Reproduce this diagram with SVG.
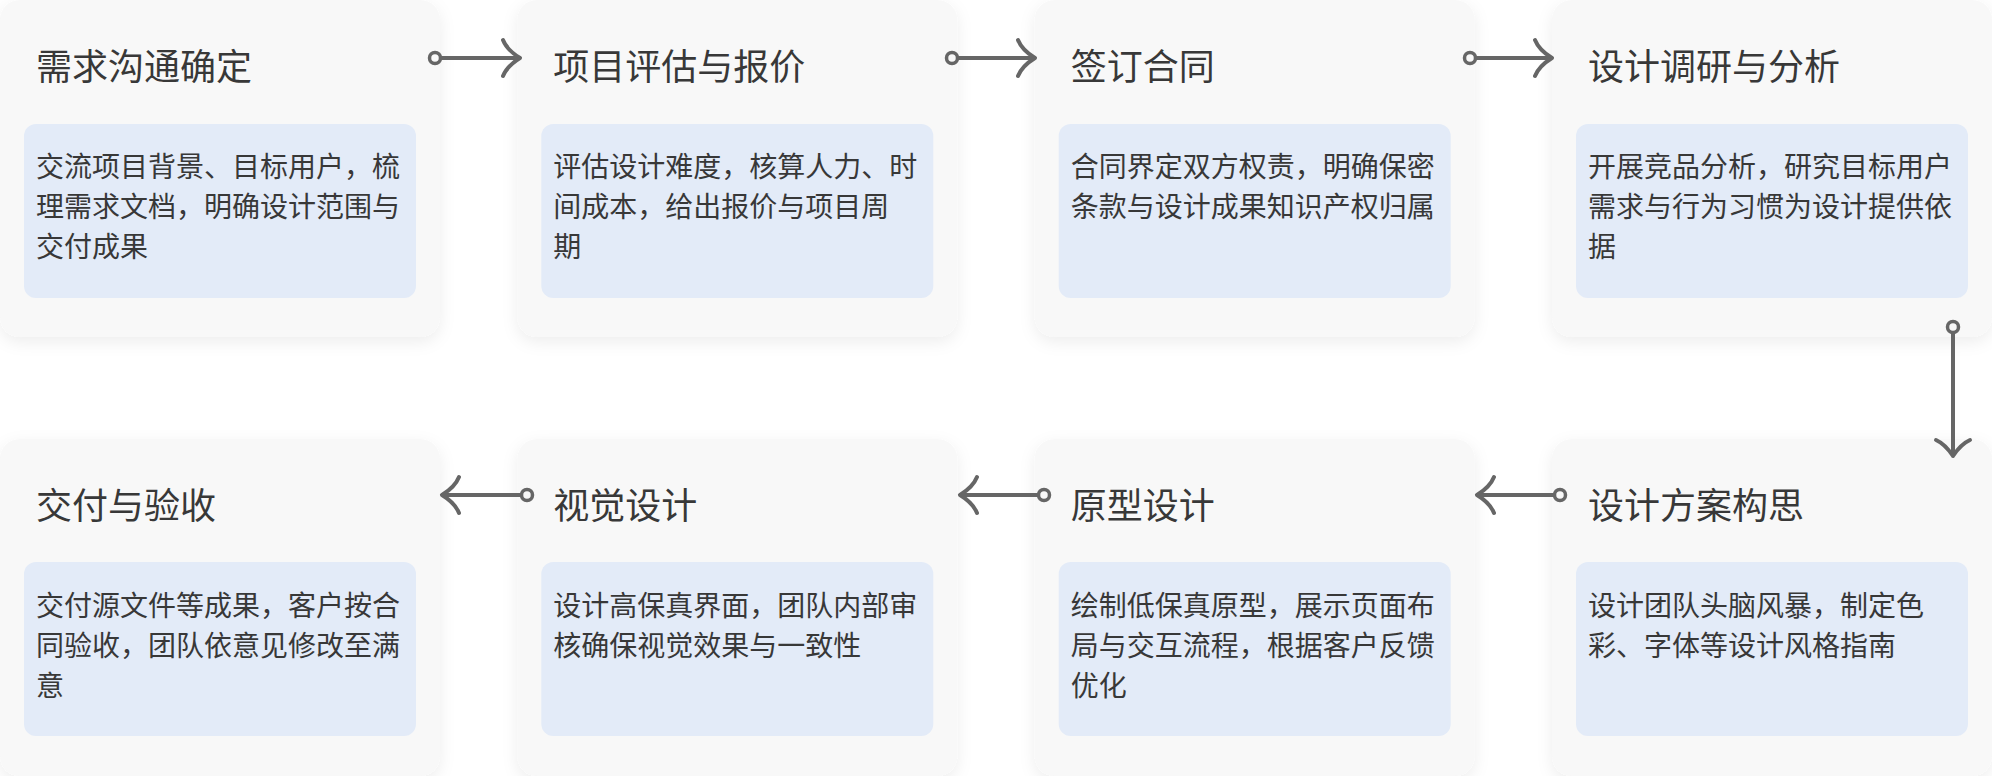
<svg xmlns="http://www.w3.org/2000/svg" width="1992" height="776" viewBox="0 0 1992 776">
<defs>
<filter id="sh" x="-10%" y="-10%" width="120%" height="125%">
<feDropShadow dx="0" dy="5" stdDeviation="8" flood-color="#000" flood-opacity="0.07"/>
</filter>
<style>
.card{fill:#f8f8f8;filter:url(#sh)}
.inner{fill:#e3ebf8}
.title{font-family:"Noto Sans CJK SC","Noto Sans",sans-serif;font-size:36px;fill:#383838}
.body{font-family:"Noto Sans CJK SC","Noto Sans",sans-serif;font-size:28px;fill:#383838}
.ln{fill:none;stroke:#666;stroke-width:4;stroke-linecap:round;stroke-linejoin:round}
.dot{fill:#f8f8f8;stroke:#666;stroke-width:3.5}
</style>
</defs>
<rect width="1992" height="776" fill="#fff"/>

<g id="n1">
<rect class="card" x="0" y="0" width="440" height="337" rx="20"/>
<rect class="inner" x="24" y="124" width="392" height="174" rx="12"/>
<text class="title" x="36" y="80">需求沟通确定</text>
<text class="body" x="36" y="177">交流项目背景、目标用户，梳<tspan x="36" dy="40">理需求文档，明确设计范围与</tspan><tspan x="36" dy="40">交付成果</tspan></text>
</g>
<g id="n2">
<rect class="card" x="517.3" y="0" width="440" height="337" rx="20"/>
<rect class="inner" x="541.3" y="124" width="392" height="174" rx="12"/>
<text class="title" x="553.3" y="80">项目评估与报价</text>
<text class="body" x="553.3" y="177">评估设计难度，核算人力、时<tspan x="553.3" dy="40">间成本，给出报价与项目周</tspan><tspan x="553.3" dy="40">期</tspan></text>
</g>
<g id="n3">
<rect class="card" x="1034.7" y="0" width="440" height="337" rx="20"/>
<rect class="inner" x="1058.7" y="124" width="392" height="174" rx="12"/>
<text class="title" x="1070.7" y="80">签订合同</text>
<text class="body" x="1070.7" y="177">合同界定双方权责，明确保密<tspan x="1070.7" dy="40">条款与设计成果知识产权归属</tspan></text>
</g>
<g id="n4">
<rect class="card" x="1552" y="0" width="440" height="337" rx="20"/>
<rect class="inner" x="1576" y="124" width="392" height="174" rx="12"/>
<text class="title" x="1588" y="80">设计调研与分析</text>
<text class="body" x="1588" y="177">开展竞品分析，研究目标用户<tspan x="1588" dy="40">需求与行为习惯为设计提供依</tspan><tspan x="1588" dy="40">据</tspan></text>
</g>

<g id="n5">
<rect class="card" x="1552" y="439" width="440" height="337" rx="20"/>
<rect class="inner" x="1576" y="562" width="392" height="174" rx="12"/>
<text class="title" x="1588" y="519">设计方案构思</text>
<text class="body" x="1588" y="616">设计团队头脑风暴，制定色<tspan x="1588" dy="40">彩、字体等设计风格指南</tspan></text>
</g>
<g id="n6">
<rect class="card" x="1034.7" y="439" width="440" height="337" rx="20"/>
<rect class="inner" x="1058.7" y="562" width="392" height="174" rx="12"/>
<text class="title" x="1070.7" y="519">原型设计</text>
<text class="body" x="1070.7" y="616">绘制低保真原型，展示页面布<tspan x="1070.7" dy="40">局与交互流程，根据客户反馈</tspan><tspan x="1070.7" dy="40">优化</tspan></text>
</g>
<g id="n7">
<rect class="card" x="517.3" y="439" width="440" height="337" rx="20"/>
<rect class="inner" x="541.3" y="562" width="392" height="174" rx="12"/>
<text class="title" x="553.3" y="519">视觉设计</text>
<text class="body" x="553.3" y="616">设计高保真界面，团队内部审<tspan x="553.3" dy="40">核确保视觉效果与一致性</tspan></text>
</g>
<g id="n8">
<rect class="card" x="0" y="439" width="440" height="337" rx="20"/>
<rect class="inner" x="24" y="562" width="392" height="174" rx="12"/>
<text class="title" x="36" y="519">交付与验收</text>
<text class="body" x="36" y="616">交付源文件等成果，客户按合<tspan x="36" dy="40">同验收，团队依意见修改至满</tspan><tspan x="36" dy="40">意</tspan></text>
</g>

<g id="connectors">
<path class="ln" d="M441,58 H520 M503,40 Q507,50 520,58 Q507,66 503,76"/>
<circle class="dot" cx="435" cy="58" r="5.5"/>
<path class="ln" d="M958,58 H1035 M1018,40 Q1022,50 1035,58 Q1022,66 1018,76"/>
<circle class="dot" cx="952" cy="58" r="5.5"/>
<path class="ln" d="M1476,58 H1552 M1535,40 Q1539,50 1552,58 Q1539,66 1535,76"/>
<circle class="dot" cx="1470" cy="58" r="5.5"/>

<path class="ln" d="M1953,333 V456 M1936,440 Q1945,444 1953,456 Q1961,444 1970,440"/>
<circle class="dot" cx="1953" cy="327" r="5.5"/>

<path class="ln" d="M1554,495 H1477 M1494,477 Q1490,487 1477,495 Q1490,503 1494,513"/>
<circle class="dot" cx="1560" cy="495" r="5.5"/>
<path class="ln" d="M1038,495 H960 M977,477 Q973,487 960,495 Q973,503 977,513"/>
<circle class="dot" cx="1044" cy="495" r="5.5"/>
<path class="ln" d="M521,495 H442 M459,477 Q455,487 442,495 Q455,503 459,513"/>
<circle class="dot" cx="527" cy="495" r="5.5"/>
</g>
</svg>
